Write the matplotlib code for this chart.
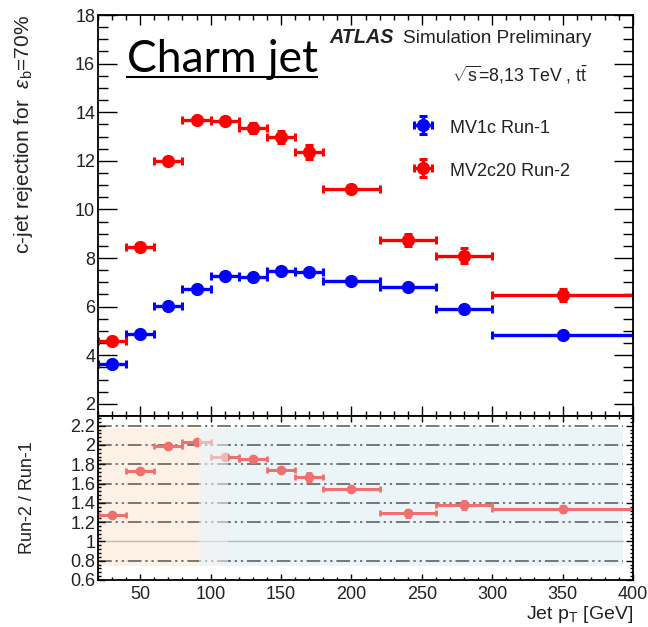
import numpy as np
import matplotlib
matplotlib.use("Agg")
import matplotlib.pyplot as plt
from matplotlib.patches import Rectangle
from matplotlib.lines import Line2D
from matplotlib.ticker import MultipleLocator, FormatStrFormatter

# data
bin_edges = [20, 40, 60, 80, 100, 120, 140, 160, 180, 220, 260, 300, 400]
mv1c = [3.64, 4.89, 6.03, 6.72, 7.28, 7.20, 7.45, 7.41, 7.07, 6.80, 5.90, 4.82]
mv1c_err = [0.08, 0.08, 0.08, 0.08, 0.08, 0.08, 0.08, 0.08, 0.08, 0.08, 0.10, 0.08]
mv2c20 = [4.60, 8.45, 11.98, 13.70, 13.65, 13.36, 12.98, 12.37, 10.85, 8.75, 8.10, 6.48]
mv2c20_err = [0.08, 0.10, 0.12, 0.12, 0.15, 0.20, 0.25, 0.30, 0.15, 0.25, 0.30, 0.25]
ratio = [1.27, 1.73, 1.99, 2.03, 1.87, 1.855, 1.74, 1.67, 1.54, 1.29, 1.38, 1.34]
ratio_err = [0.02, 0.02, 0.02, 0.02, 0.02, 0.02, 0.02, 0.04, 0.02, 0.04, 0.04, 0.03]
grid_levels = [0.8, 1.2, 1.4, 1.6, 1.8, 2.0, 2.2]

edges = np.array(bin_edges, float)
xc = 0.5 * (edges[1:] + edges[:-1])
xe = 0.5 * (edges[1:] - edges[:-1])

plt.rcParams["font.family"] = ["Liberation Sans", "DejaVu Sans"]
plt.rcParams["mathtext.fontset"] = "custom"
plt.rcParams["mathtext.rm"] = "Liberation Sans"
plt.rcParams["mathtext.it"] = "Liberation Sans:italic"
TXT = "#222222"

fig = plt.figure(figsize=(6.48, 6.27), dpi=100)
ax = fig.add_axes([98/648, 1-416/627, 535/648, 401/627])
ax2 = fig.add_axes([98/648, 1-580/627, 535/648, 164/627], sharex=ax)

eb = dict(fmt="o", ms=8.5, elinewidth=2.4, capsize=3, capthick=2.2, lw=0)
ax.errorbar(xc, mv1c, xerr=xe, yerr=mv1c_err, color="#0000ff", label="MV1c Run-1", **eb)
ax.errorbar(xc, mv2c20, xerr=xe, yerr=mv2c20_err, color="#ff0000", label="MV2c20 Run-2", **eb)
ax.set_xlim(20, 400)
ax.set_ylim(1.5, 18)

ax.xaxis.set_major_locator(MultipleLocator(50))
ax.xaxis.set_minor_locator(MultipleLocator(10))
ax.yaxis.set_major_locator(MultipleLocator(2))
ax.yaxis.set_minor_locator(MultipleLocator(0.5))
ax.tick_params(axis="both", which="both", direction="in", top=True, right=True, colors="black")
ax.tick_params(axis="x", which="major", length=7, width=1)
ax.tick_params(axis="x", which="minor", length=3.5, width=1)
ax.tick_params(axis="y", which="major", length=14, width=1, labelsize=13, labelcolor=TXT, pad=2)
ax.tick_params(axis="y", which="minor", length=7, width=1)
ax.tick_params(axis="x", labelbottom=False)
for s in ax.spines.values():
    s.set_linewidth(1.3)
ax.set_ylabel(r"c-jet rejection for  $\varepsilon_{\rm b}$=70%", fontsize=15, color=TXT, loc="top")
ax.yaxis.set_label_coords(-0.118, 1.0)

leg = ax.legend(loc="upper left", bbox_to_anchor=(404/648, 1-117/627), bbox_transform=fig.transFigure,
                frameon=False, fontsize=13, handlelength=2.1, handleheight=1.3, handletextpad=0.45,
                labelspacing=1.3, borderpad=0, borderaxespad=0)
for t in leg.get_texts():
    t.set_color(TXT)

fig.text(329/648, 1-43/627, "ATLAS", fontsize=14.2, fontweight="bold", style="italic",
         color=TXT, va="baseline")
fig.text(403/648, 1-43/627, "Simulation Preliminary", fontsize=13.7, color=TXT, va="baseline")
fig.text(452/648, 1-82/627, r"$\sqrt{\rm s}$=8,13 TeV , t$\bar{\rm t}$", fontsize=12.8,
         color=TXT, va="baseline")
fig.text(127/648, 1-72/627, "Charm jet", fontsize=32, family="Lato", color="black", va="baseline")
fig.add_artist(Line2D([127/648, 317/648], [1-77/627, 1-77/627], transform=fig.transFigure,
                      color="black", lw=1.5))

# ratio panel
ax2.add_patch(Rectangle((20, 0.74), 72, 1.44, facecolor="#fdf1e6", edgecolor="none", zorder=0))
ax2.add_patch(Rectangle((112, 0.74), 281, 1.44, facecolor="#ebf4f7", edgecolor="none", zorder=0))
for g in grid_levels:
    ax2.plot([20, 393], [g, g], color="#555555", lw=1.1,
             ls=(0, (9, 2.5, 1.5, 2.5, 1.5, 2.5)), zorder=1)
ax2.plot([20, 393], [1, 1], color="#bbbbbb", lw=1, zorder=1)
ax2.errorbar(xc, ratio, xerr=xe, yerr=ratio_err, fmt="o", ms=6, color="#f07070",
             elinewidth=2.2, capsize=2.5, capthick=2, lw=0, zorder=2)
ax2.add_patch(Rectangle((92, 0.74), 20, 1.44, facecolor="#e6ebeb", alpha=0.6,
                        edgecolor="none", zorder=3))
ax2.set_ylim(0.6, 2.3)
ax2.yaxis.set_major_locator(MultipleLocator(0.2))
ax2.yaxis.set_minor_locator(MultipleLocator(0.04))
ax2.yaxis.set_major_formatter(FormatStrFormatter("%g"))
ax2.tick_params(axis="both", which="both", direction="in", top=True, right=True)
ax2.tick_params(axis="x", which="major", length=4, width=1, labelsize=13, labelcolor=TXT, pad=4)
ax2.tick_params(axis="x", which="minor", length=2.5, width=1)
ax2.tick_params(axis="y", which="major", length=5, width=1, labelsize=13, labelcolor=TXT, pad=2)
ax2.tick_params(axis="y", which="minor", length=2.5, width=1)
for s in ax2.spines.values():
    s.set_linewidth(1.3)
ax2.set_ylabel("Run-2 / Run-1", fontsize=13, color=TXT)
ax2.yaxis.set_label_coords(-0.115, 0.5)
ax2.set_xlabel(r"Jet p$_{\rm T}$ [GeV]", fontsize=14, color=TXT, loc="right", labelpad=1)

fig.savefig("out.png", dpi=100)
